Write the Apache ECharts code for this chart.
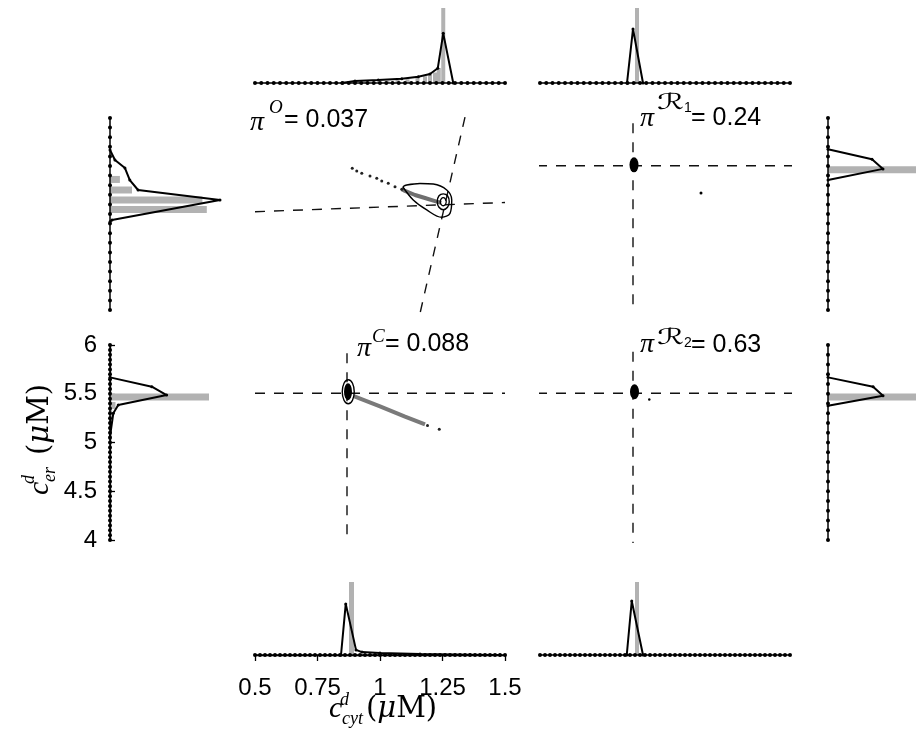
<!DOCTYPE html>
<html><head><meta charset="utf-8">
<script src="https://cdn.jsdelivr.net/npm/echarts@6/dist/echarts.min.js"></script>
<style>html,body{margin:0;padding:0;background:#fff}#c{width:916px;height:744px}</style>
</head><body><div id="c"></div>
<script>
// ---------- bins for the dotted baselines ----------
const cytBins = [0.5,0.525,0.55,0.575,0.6,0.625,0.65,0.675,0.7,0.725,0.75,0.775,0.8,0.825,0.85,0.875,0.9,0.925,0.95,0.975,1.0,1.025,1.05,1.075,1.1,1.125,1.15,1.175,1.2,1.225,1.25,1.275,1.3,1.325,1.35,1.375,1.4,1.425,1.45,1.475,1.5];
const cytBinsFine = [0.50,0.52,0.54,0.56,0.58,0.60,0.62,0.64,0.66,0.68,0.70,0.72,0.74,0.76,0.78,0.80,0.82,0.84,0.86,0.88,0.90,0.92,0.94,0.96,0.98,1.00,1.02,1.04,1.06,1.08,1.10,1.12,1.14,1.16,1.18,1.20,1.22,1.24,1.26,1.28,1.30,1.32,1.34,1.36,1.38,1.40,1.42,1.44,1.46,1.48,1.50];
const erBins = [4.0,4.1,4.2,4.3,4.4,4.5,4.6,4.7,4.8,4.9,5.0,5.1,5.2,5.3,5.4,5.5,5.6,5.7,5.8,5.9,6.0];
const erBinsFine = [4.0,4.05,4.1,4.15,4.2,4.25,4.3,4.35,4.4,4.45,4.5,4.55,4.6,4.65,4.7,4.75,4.8,4.85,4.9,4.95,5.0,5.05,5.1,5.15,5.2,5.25,5.3,5.35,5.4,5.45,5.5,5.55,5.6,5.65,5.7,5.75,5.8,5.85,5.9,5.95,6.0];
const cytTicks = [0.5, 0.75, 1, 1.25, 1.5];
const erTicks = [4, 4.5, 5, 5.5, 6];

// ---------- marginal histograms (density line vertices + gray bars) ----------
const oCytX = [0.847, 0.9, 0.993, 1.087, 1.153, 1.2, 1.231, 1.253, 1.293];
const oCytD = [0, 0.027, 0.04, 0.057, 0.084, 0.12, 0.196, 0.662, 0];
const oCytGrayX = [1.03, 1.07, 1.11, 1.15, 1.18, 1.2, 1.22, 1.235, 1.253];
const oCytGrayH = [0.03, 0.04, 0.05, 0.07, 0.09, 0.11, 0.14, 0.2, 1.0];

const r1CytX = [0.848, 0.872, 0.912];
const r1CytD = [0, 0.72, 0];
const r1CytGrayX = [0.888];
const r1CytGrayH = [1.0];

const cCytX = [0.844, 0.863, 0.904, 0.928, 1.0, 1.16, 1.36, 1.48];
const cCytD = [0, 0.70, 0.07, 0.04, 0.027, 0.014, 0.005, 0];
const cCytGrayX = [0.886];
const cCytGrayH = [1.0];

const r2CytX = [0.847, 0.867, 0.912];
const r2CytD = [0, 0.74, 0];
const r2CytGrayX = [0.888];
const r2CytGrayH = [1.0];

const oErY = [5.667, 5.5625, 5.479, 5.354, 5.25, 5.146, 4.9375, 4.92];
const oErD = [0, 0.045, 0.136, 0.18, 0.255, 1.0, 0.018, 0];
const oErGrayY = [5.36, 5.25, 5.146, 5.047];
const oErGrayH = [0.09, 0.2, 0.84, 0.88];

const cErY = [5.668, 5.572, 5.487, 5.385, 5.3, 5.06];
const cErD = [0, 0.38, 0.515, 0.075, 0.03, 0];
const cErGrayY = [5.467, 5.38, 5.3];
const cErGrayH = [0.9, 0.05, 0.02];

const r1ErY = [5.674, 5.57, 5.47, 5.354];
const r1ErD = [0, 0.4, 0.5, 0];
const r1ErGrayY = [5.46];
const r1ErGrayH = [0.8];

const r2ErY = [5.668, 5.572, 5.48, 5.377];
const r2ErD = [0, 0.41, 0.5, 0];
const r2ErGrayY = [5.467];
const r2ErGrayH = [0.8];

// ---------- joint panels ----------
const oAxisMajor = [[0.5, 5.024], [1.5, 5.12]];
const oAxisMinor = [[1.34, 6.01], [1.16, 3.965]];
const oContourOuter = [[1.091,5.284],[1.107,5.302],[1.16,5.318],[1.213,5.3125],[1.267,5.25],[1.287,5.146],[1.28,5.007],[1.247,4.966],[1.187,5.042],[1.133,5.146],[1.091,5.284]];
const oContourMid = [[1.277,5.128],[1.27,5.19],[1.253,5.21],[1.236,5.19],[1.229,5.128],[1.236,5.07],[1.253,5.045],[1.27,5.07],[1.277,5.128]];
const oContourInner = [[1.265,5.128],[1.261,5.158],[1.253,5.17],[1.245,5.158],[1.241,5.128],[1.245,5.098],[1.253,5.086],[1.261,5.098],[1.265,5.128]];
const oStreakDots = [[0.889,5.476],[0.907,5.448],[0.927,5.424],[0.96,5.396],[0.987,5.372],[1.007,5.344],[1.033,5.32],[1.06,5.284],[1.087,5.257]];
const oStreakBand = [[1.087,5.257],[1.1,5.24],[1.14,5.198],[1.18,5.167],[1.22,5.135],[1.245,5.115]];

const r1AxisH = [[0.488, 5.503], [1.52, 5.503]];
const r1AxisV = [[0.872, 5.945], [0.872, 3.966]];
const r1Center = [[0.876, 5.512]];
const r1Stray = [[1.144, 5.219]];

const cAxisH = [[0.5, 5.505], [1.5, 5.505]];
const cAxisV = [[0.868, 5.915], [0.868, 3.98]];
const cContour = [[0.897,5.52],[0.89,5.607],[0.873,5.643],[0.856,5.607],[0.849,5.52],[0.856,5.433],[0.873,5.397],[0.89,5.433],[0.897,5.52]];
const cCenter = [[0.872, 5.52]];
const cStreakBand = [[0.895, 5.475], [1.0, 5.37], [1.1, 5.265], [1.18, 5.185]];
const cStreakDots = [[1.19, 5.175], [1.237, 5.135]];

const r2AxisH = [[0.488, 5.505], [1.52, 5.505]];
const r2AxisV = [[0.872, 5.93], [0.872, 3.97]];
const r2Center = [[0.878, 5.52]];
const r2Stray = [[0.937, 5.44]];

// ---------- labels ----------
const piLabels = [
  {sup: 'O', sub: '', val: '= 0.037'},
  {sup: 'ℛ', sub: '1', val: '= 0.24'},
  {sup: 'C', sub: '', val: '= 0.088'},
  {sup: 'ℛ', sub: '2', val: '= 0.63'}
];

// ================= build =================
const GRAY = '#b2b2b2';
const sans = '"Liberation Sans", Arial, Helvetica, sans-serif';
const serif = '"Liberation Serif", "DejaVu Serif", serif';
const serifWide = '"DejaVu Serif", "Liberation Serif", serif';

const gridBoxes = [
  [255, 8, 250, 75],   // 0 top hist centre
  [540, 8, 250, 75],   // 1 top hist right
  [110, 118, 110, 192],// 2 left hist top
  [110, 345, 110, 195],// 3 left hist bottom
  [255, 118, 250, 192],// 4 O
  [540, 118, 250, 192],// 5 R1
  [255, 345, 250, 195],// 6 C
  [540, 345, 250, 195],// 7 R2
  [828, 118, 88, 192], // 8 right hist top
  [828, 345, 88, 195], // 9 right hist bottom
  [255, 582, 250, 73], // 10 bottom hist centre
  [540, 582, 250, 73]  // 11 bottom hist right
];
const grid = gridBoxes.map(b => ({left: b[0], top: b[1], width: b[2], height: b[3], containLabel: false, outerBoundsMode: 'none'}));

const hidden = {show: false};
const xAxis = [], yAxis = [];
gridBoxes.forEach((b, i) => {
  let xr, yr;
  if ([2, 3].includes(i)) { xr = [0, 1]; yr = [4, 6]; }
  else if ([8, 9].includes(i)) { xr = [0, 0.8]; yr = [4, 6]; }
  else if ([0, 1, 10, 11].includes(i)) { xr = [0.5, 1.5]; yr = [0, 1]; }
  else { xr = [0.5, 1.5]; yr = [4, 6]; }
  xAxis.push({type: 'value', gridIndex: i, min: xr[0], max: xr[1], show: false, splitLine: hidden});
  yAxis.push({type: 'value', gridIndex: i, min: yr[0], max: yr[1], show: false, splitLine: hidden});
});
Object.assign(xAxis[10], {
  show: true, position: 'bottom', offset: 3, interval: 0.25,
  axisLine: {show: true, lineStyle: {color: '#000', width: 1.3}},
  axisTick: {show: true, inside: false, length: 6, lineStyle: {color: '#000', width: 1.3}},
  axisLabel: {show: true, margin: 18, color: '#000', fontSize: 24, fontFamily: sans,
    customValues: cytTicks, formatter: v => String(v)},
  splitLine: hidden
});
Object.assign(yAxis[3], {
  show: true, position: 'left', offset: 6, interval: 0.5,
  axisLine: {show: true, lineStyle: {color: '#000', width: 1.3}},
  axisTick: {show: true, inside: true, length: 5, lineStyle: {color: '#000', width: 1.3}},
  axisLabel: {show: true, margin: 7, color: '#000', fontSize: 24, fontFamily: sans,
    customValues: erTicks, formatter: v => String(v)},
  splitLine: hidden
});

const series = [];
const base = {clip: false, silent: true, animation: false};
function add(g, s) { series.push(Object.assign({xAxisIndex: g, yAxisIndex: g}, base, s)); }

function dotsH(g, bins) {
  add(g, {type: 'line', data: bins.map(b => [b, 0]), symbol: 'circle', symbolSize: 4, showSymbol: true,
    lineStyle: {color: '#000', width: 1.5}, itemStyle: {color: '#000', opacity: 1}, z: 3});
}
function dotsV(g, bins) {
  add(g, {type: 'line', data: bins.map(b => [0, b]), symbol: 'circle', symbolSize: 4, showSymbol: true,
    lineStyle: {color: '#000', width: 1.5}, itemStyle: {color: '#000', opacity: 1}, z: 3});
}
function grayBars(g, pos, h, vertical, thick) {
  add(g, {type: 'custom', data: pos.map((p, i) => [p, h[i]]), z: 2,
    renderItem: function (params, api) {
      const p = api.value(0), v = api.value(1);
      if (!vertical) {
        const a = api.coord([p, 0]), b = api.coord([p, v]);
        return {type: 'rect', shape: {x: a[0] - thick / 2, y: b[1], width: thick, height: a[1] - b[1]}, style: {fill: GRAY}};
      } else {
        const a = api.coord([0, p]), b = api.coord([v, p]);
        return {type: 'rect', shape: {x: a[0], y: a[1] - thick / 2, width: b[0] - a[0], height: thick}, style: {fill: GRAY}};
      }
    }});
}
function densH(g, X, D) {
  add(g, {type: 'line', data: X.map((x, i) => [x, D[i]]), symbol: 'circle', symbolSize: 3, showSymbol: true,
    lineStyle: {color: '#000', width: 2}, itemStyle: {color: '#000', opacity: 1}, z: 5});
}
function densV(g, Y, D) {
  add(g, {type: 'line', data: Y.map((y, i) => [D[i], y]), symbol: 'circle', symbolSize: 3, showSymbol: true,
    lineStyle: {color: '#000', width: 2}, itemStyle: {color: '#000', opacity: 1}, z: 5});
}
function dashed(g, pts) {
  add(g, {type: 'line', data: pts, symbol: 'none', lineStyle: {color: '#111', width: 1.4, type: [10, 9]}, z: 2});
}
function contour(g, pts, w, smooth) {
  add(g, {type: 'line', data: pts, symbol: 'none', smooth: smooth, lineStyle: {color: '#000', width: w}, z: 6});
}
function blob(g, pts, size) {
  add(g, {type: 'scatter', data: pts, symbol: 'circle', symbolSize: size, itemStyle: {color: '#000', opacity: 1}, z: 7});
}

grayBars(0, oCytGrayX, oCytGrayH, false, 4); dotsH(0, cytBins); densH(0, oCytX, oCytD);
grayBars(1, r1CytGrayX, r1CytGrayH, false, 4); dotsH(1, cytBins); densH(1, r1CytX, r1CytD);
grayBars(10, cCytGrayX, cCytGrayH, false, 5); dotsH(10, cytBinsFine); densH(10, cCytX, cCytD);
grayBars(11, r2CytGrayX, r2CytGrayH, false, 4); dotsH(11, cytBinsFine); densH(11, r2CytX, r2CytD);
grayBars(2, oErGrayY, oErGrayH, true, 7); dotsV(2, erBins); densV(2, oErY, oErD);
grayBars(3, cErGrayY, cErGrayH, true, 7); dotsV(3, erBinsFine); densV(3, cErY, cErD);
grayBars(8, r1ErGrayY, r1ErGrayH, true, 7); dotsV(8, erBins); densV(8, r1ErY, r1ErD);
grayBars(9, r2ErGrayY, r2ErGrayH, true, 7); dotsV(9, erBins); densV(9, r2ErY, r2ErD);

dashed(4, oAxisMajor); dashed(4, oAxisMinor);
add(4, {type: 'line', data: oStreakBand, symbol: 'none', lineStyle: {color: '#6f6f6f', width: 4}, z: 4});
add(4, {type: 'scatter', data: oStreakDots, symbol: 'circle', symbolSize: 3, itemStyle: {color: '#222', opacity: 1}, z: 5});
contour(4, oContourOuter, 1.4, 0.35); contour(4, oContourMid, 1.4, true); contour(4, oContourInner, 1.3, true);
dashed(5, r1AxisH); dashed(5, r1AxisV);
blob(5, r1Center, [9, 15]); blob(5, r1Stray, 3);
dashed(6, cAxisH); dashed(6, cAxisV);
add(6, {type: 'line', data: cStreakBand, symbol: 'none', lineStyle: {color: '#7a7a7a', width: 4}, z: 4});
add(6, {type: 'scatter', data: cStreakDots, symbol: 'circle', symbolSize: 3, itemStyle: {color: '#222', opacity: 1}, z: 5});
contour(6, cContour, 1.4, true); blob(6, cCenter, [8, 17]);
dashed(7, r2AxisH); dashed(7, r2AxisV);
blob(7, r2Center, [9, 15]); blob(7, r2Stray, 2.5);

// ---------- text graphics ----------
function T(x, y, text, size, family, italic, extra) {
  return Object.assign({type: 'text', x: x, y: y, silent: true, style: {
    text: text, fontSize: size, fontFamily: family, fontStyle: italic ? 'italic' : 'normal', fill: '#000',
    align: 'left', verticalAlign: 'middle', textAlign: 'left', textVerticalAlign: 'middle'}}, extra || {});
}
const labelPos = [
  {pi: [250, 123], sup: [269, 108], sub: null, val: [284, 120]},
  {pi: [640, 119], sup: [657, 103], sub: [684, 108], val: [691, 118]},
  {pi: [357, 349], sup: [372, 337], sub: null, val: [385, 344]},
  {pi: [640, 345], sup: [657, 338], sub: [684, 343], val: [691, 345]}
];
const graphics = [];
piLabels.forEach((L, i) => {
  const P = labelPos[i];
  graphics.push(T(P.pi[0], P.pi[1], 'π', 28, serif, true));
  if (L.sup === 'ℛ') {
    graphics.push(T(P.sup[0], P.sup[1], L.sup, 26, '"DejaVu Sans", "DejaVu Serif", serif', false, {scaleX: 1.3, scaleY: 0.85}));
  } else {
    graphics.push(T(P.sup[0], P.sup[1], L.sup, 19, serif, true));
  }
  if (L.sub) graphics.push(T(P.sub[0], P.sub[1], L.sub, 14, sans, false));
  graphics.push(T(P.val[0], P.val[1], L.val, 25, sans, false));
});
const unitRich = {a: {fontSize: 29, fontFamily: serifWide, fontStyle: 'normal'}, b: {fontSize: 29, fontFamily: serifWide, fontStyle: 'italic'}};
function unitText(x, y) {
  return {type: 'text', x: x, y: y, silent: true, style: {text: '{a|(}{b|μ}{a|M)}', rich: unitRich, fill: '#000',
    align: 'left', verticalAlign: 'middle', textAlign: 'left', textVerticalAlign: 'middle'}};
}
graphics.push(T(329, 709, 'c', 30, serif, true));
graphics.push(T(340, 700, 'd', 18, serif, true));
graphics.push(T(342, 719, 'cyt', 18, serif, true));
graphics.push(unitText(366, 709));
graphics.push({type: 'group', x: 40, y: 495, rotation: Math.PI / 2, silent: true, children: [
  T(0, 0, 'c', 30, serif, true),
  T(11, -11, 'd', 18, serif, true),
  T(13, 10, 'er', 18, serif, true),
  unitText(40, 0)
]});

const chart = echarts.init(document.getElementById('c'), null, {renderer: 'canvas'});
chart.setOption({
  backgroundColor: '#fff',
  animation: false,
  grid: grid, xAxis: xAxis, yAxis: yAxis,
  series: series,
  graphic: {elements: graphics}
});
</script></body></html>
